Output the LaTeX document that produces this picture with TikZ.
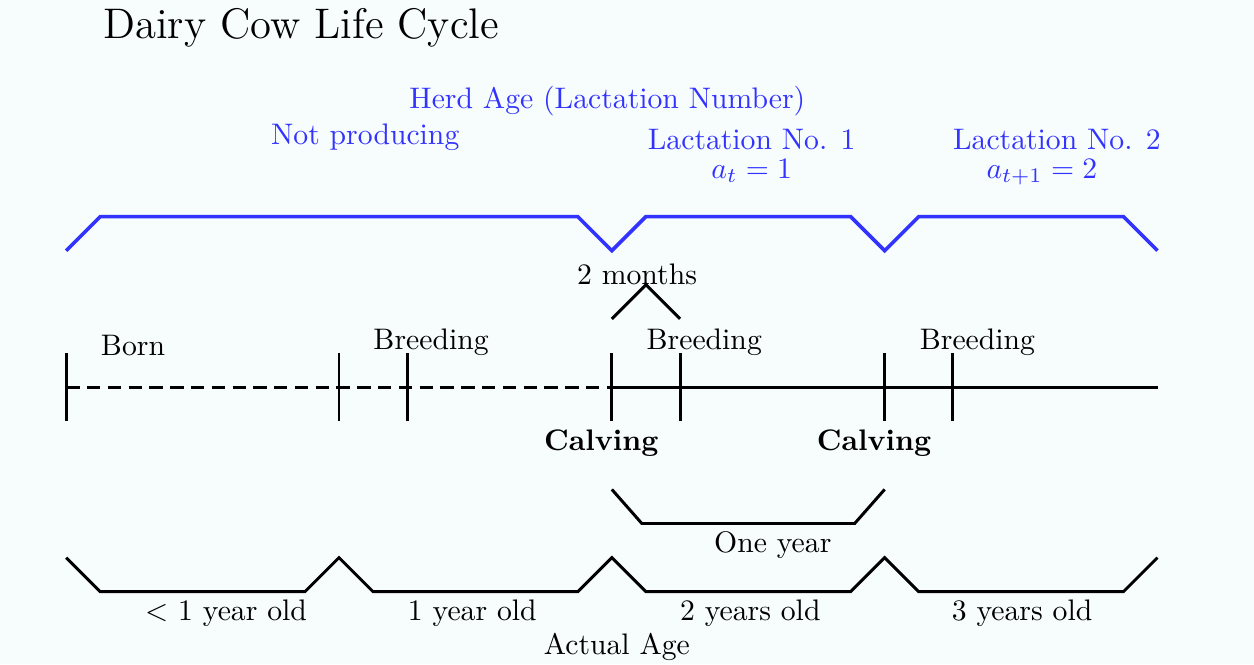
\documentclass[tikz,border=0pt]{standalone}
\definecolor{herdblue}{RGB}{51,51,255}
\definecolor{bgcolor}{RGB}{247,253,253}
\begin{document}
\begin{tikzpicture}[x=0.4035cm, y=0.4035cm,
lifeline/.style={line width=1pt},
herdline/.style={herdblue, line width=1.2pt},
lbl/.style={anchor=base},
herdlbl/.style={anchor=base, text=herdblue}]
% Background and bounding box
\fill[bgcolor] (-1.94,-8.12) rectangle (34.83,11.35);
\useasboundingbox (-1.94,-8.12) rectangle (34.83,11.35);

% Title
\node[lbl, font=\Large] (title) at (6.89,10.22) {Dairy Cow Life Cycle};

% Herd age (lactation number) line
\draw[herdline] (0,4) -- (1,5) -- (15,5) -- (16,4) -- (17,5) -- (23,5) -- (24,4)
-- (25,5) -- (31,5) -- (32,4);
\node[herdlbl] (herdage) at (15.87,8.18) {Herd Age (Lactation Number)};
\node[herdlbl] (notprod) at (8.77,7.1) {Not producing};
\node[herdlbl] (lact1) at (20.1,6.97) {Lactation No. 1};
\node[herdlbl] (at1) at (20.1,6.12) {$a_t = 1$};
\node[herdlbl] (lact2) at (29.05,6.97) {Lactation No. 2};
\node[herdlbl] (at2) at (28.61,6.12) {$a_{t+1} = 2$};

% Two months between calving and breeding
\draw[lifeline] (16,2) -- (17,3) -- (18,2);
\node[lbl] (twomonths) at (16.74,3) {2 months};

% Time line: dashed before first calving, solid after
\draw[lifeline, dash pattern=on 4.5pt off 2.5pt] (0,0) -- (16,0);
\draw[lifeline] (16,0) -- (32,0);
\foreach \t in {0,8,10,16,18,24,26} {
\draw[lifeline] (\t,-1) -- (\t,1);
}

% Events on the time line
\node[lbl] (born) at (1.96,0.94) {Born};
\node[lbl] (breed0) at (10.7,1.11) {Breeding};
\node[lbl] (breed1) at (18.71,1.11) {Breeding};
\node[lbl] (breed2) at (26.72,1.11) {Breeding};
\node[lbl] (calv1) at (15.69,-1.85) {\textbf{Calving}};
\node[lbl] (calv2) at (23.69,-1.85) {\textbf{Calving}};

% One year between calvings
\draw[lifeline] (16,-3) -- (16.88,-4) -- (23.12,-4) -- (24,-3);
\node[lbl] (oneyear) at (20.72,-4.86) {One year};

% Actual age
\draw[lifeline] (0,-5) -- (1,-6) -- (7,-6) -- (8,-5) -- (9,-6) -- (15,-6) -- (16,-5)
-- (17,-6) -- (23,-6) -- (24,-5) -- (25,-6) -- (31,-6) -- (32,-5);
\node[lbl] (age0) at (4.69,-6.83) {$<$ 1 year old};
\node[lbl] (age1) at (11.91,-6.83) {1 year old};
\node[lbl] (age2) at (20.06,-6.83) {2 years old};
\node[lbl] (age3) at (28.03,-6.83) {3 years old};
\node[lbl] (actual) at (16.15,-7.83) {Actual Age};

\end{tikzpicture}
\end{document}
